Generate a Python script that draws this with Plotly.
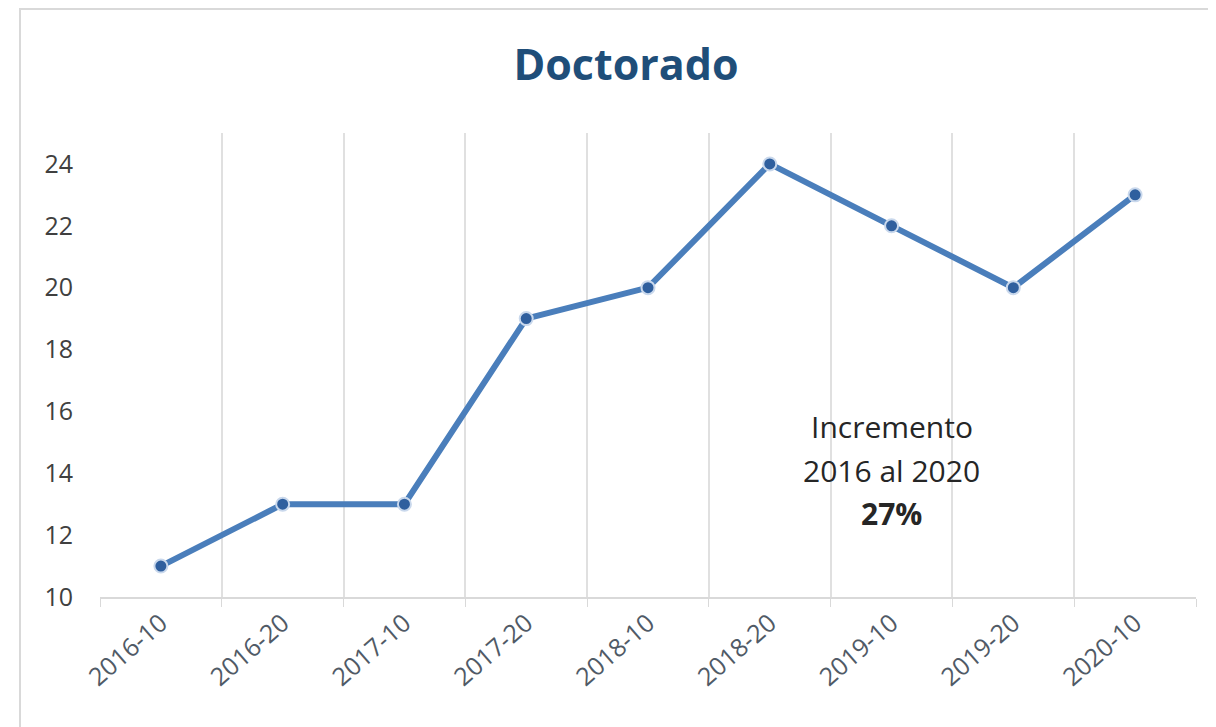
import plotly.graph_objects as go

# Datos
periodos = ["2016-10", "2016-20", "2017-10", "2017-20", "2018-10",
            "2018-20", "2019-10", "2019-20", "2020-10"]
doctorado = [11, 13, 13, 19, 20, 24, 22, 20, 23]
y_ticks = [10, 12, 14, 16, 18, 20, 22, 24]

W, H = 1216, 727
ML, MR, MT, MB = 92, 28, 125, 138

fig = go.Figure()

fig.add_trace(go.Scatter(
    x=periodos, y=doctorado, mode="lines+markers",
    line=dict(color="#4a7ebb", width=6),
    marker=dict(size=13, color="#2f5f9e", line=dict(color="#c9d8ec", width=2)),
    showlegend=False,
))

# Texto del incremento
fig.add_annotation(x="2019-10", y=15.5, text="Incremento", showarrow=False,
                   font=dict(size=30, color="#262626"))
fig.add_annotation(x="2019-10", y=14.1, text="2016 al 2020", showarrow=False,
                   font=dict(size=30, color="#262626"))
fig.add_annotation(x="2019-10", y=12.7, text="<b>27%</b>", showarrow=False,
                   font=dict(size=30, color="#262626"))

# marco exterior del grafico
pw = W - ML - MR
ph = H - MT - MB
fig.add_shape(type="rect", xref="paper", yref="paper",
              x0=(12 - ML) / pw, x1=1.2, y0=-0.6, y1=(H - MB - 1) / ph,
              line=dict(color="#d9d9d9", width=2), layer="below")

fig.update_layout(
    width=W, height=H,
    margin=dict(l=ML, r=MR, t=MT, b=MB),
    paper_bgcolor="white", plot_bgcolor="white",
    font=dict(family="Open Sans", color="#595959"),
    title=dict(text="<b>Doctorado</b>", x=(618 - ML) / pw, xref="paper",
               y=1 - 57 / H, yanchor="middle", xanchor="center",
               font=dict(size=43, color="#1f4e79", family="Open Sans")),
    xaxis=dict(type="category", tickson="boundaries", showgrid=True,
               gridcolor="#e0e0e0", gridwidth=1.5, showline=True,
               linecolor="#d9d9d9", linewidth=1.5, ticks="outside",
               ticklen=8, tickcolor="#d9d9d9", tickangle=-41,
               tickfont=dict(size=25, color="#505a66"), range=[-0.5, 8.5]),
    yaxis=dict(range=[10, 25], tickvals=y_ticks, showgrid=False,
               zeroline=False, showline=False, ticks="",
               tickfont=dict(size=25, color="#404040"), ticklabelstandoff=26),
)

fig.write_html("out.html")
